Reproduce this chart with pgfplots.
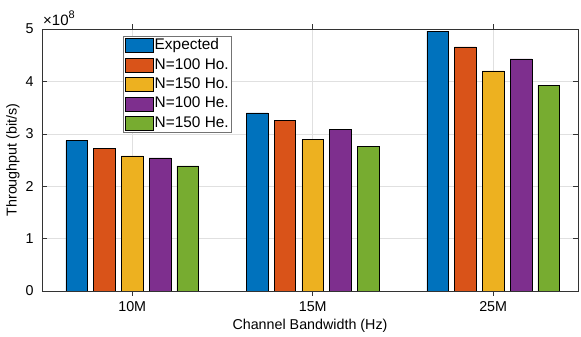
\documentclass[border=0pt]{standalone}
\usepackage{pgfplots}
\pgfplotsset{compat=1.18}
\usepackage{fontspec}
\setmainfont{Liberation Sans}
\definecolor{c1}{rgb}{0,0.447,0.741}
\definecolor{c2}{rgb}{0.85,0.325,0.098}
\definecolor{c3}{rgb}{0.929,0.694,0.125}
\definecolor{c4}{rgb}{0.494,0.184,0.556}
\definecolor{c5}{rgb}{0.466,0.674,0.188}
\begin{document}
\begin{tikzpicture}
\begin{axis}[
  name=ax,
  scale only axis, width=536pt, height=262pt,
  xmin=0.5, xmax=3.47, ymin=0, ymax=5,
  xtick={1,2,3}, xticklabels={10M,15M,25M},
  ytick={0,1,2,3,4,5},
  grid=major, major grid style={black!12, line width=0.5pt},
  axis line style={black!80, line width=0.5pt}, tick style={black!80, line width=0.5pt},
  major tick length=5pt, tick align=inside,
  font=\fontsize{14.3}{17}\selectfont,
  /pgf/number format/assume math mode=true,
  yticklabel style={xshift=-5pt},
  xticklabel style={yshift=-2pt},
  xlabel={Channel Bandwidth (Hz)}, ylabel={Throughput (bit/s)},
  xlabel style={yshift=-1pt},
  ylabel style={yshift=-1pt},
  ybar, bar width=0.12,
  legend cell align=left,
  legend style={at={(0.152,0.973)}, anchor=north west, draw=black!55, line width=0.5pt,
    inner sep=1.5pt, row sep=3.6pt, font=\fontsize{15.4}{17}\selectfont,
    nodes={inner sep=1pt, text height=10.8pt, text depth=3pt}},
  legend image code/.code={\draw[#1, line width=0.5pt] (0pt,-7pt) rectangle (28pt,7pt);},
  every axis plot/.append style={draw=black, line width=0.5pt},
]
\addplot[fill=c1, bar shift=-0.308] coordinates {(1,2.87) (2,3.40) (3,4.96)};
\addplot[fill=c2, bar shift=-0.154] coordinates {(1,2.72) (2,3.26) (3,4.66)};
\addplot[fill=c3, bar shift=0] coordinates {(1,2.58) (2,2.89) (3,4.20)};
\addplot[fill=c4, bar shift=0.154] coordinates {(1,2.54) (2,3.09) (3,4.43)};
\addplot[fill=c5, bar shift=0.308] coordinates {(1,2.39) (2,2.76) (3,3.93)};
\legend{Expected, N=100 Ho., N=150 Ho., N=100 He., N=150 He.}
\end{axis}
\node[anchor=south west, inner sep=0pt, xshift=1pt, yshift=3pt, font=\fontsize{15}{17}\selectfont] at (ax.north west) {×10\raisebox{0.45em}{\fontsize{11}{12}\selectfont 8}};
\path (ax.south west) ++(-42pt,-42pt);
\path (ax.north east) ++(3pt,29pt);
\end{tikzpicture}
\end{document}
